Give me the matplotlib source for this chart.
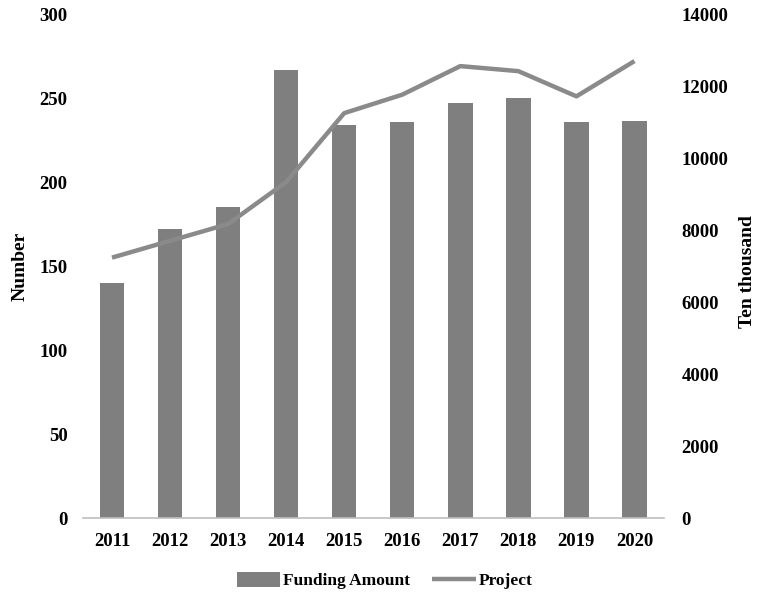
import matplotlib
matplotlib.use("Agg")
import matplotlib.pyplot as plt
import numpy as np

years = ["2011", "2012", "2013", "2014", "2015", "2016", "2017", "2018", "2019", "2020"]
funding_amount = [6530, 8030, 8640, 12440, 10920, 11000, 11530, 11670, 11000, 11030]  # ten thousand
project_count = [155, 165, 175, 200, 241, 252, 269, 266, 251, 272]

plt.rcParams["font.family"] = ["Liberation Serif", "DejaVu Serif"]
plt.rcParams["font.size"] = 13.5
plt.rcParams["font.weight"] = "bold"

fig = plt.figure(figsize=(7.57, 5.97), dpi=100)
ax = fig.add_axes([0.1096, 0.1323, 0.7669, 0.8442])
ax2 = ax.twinx()

x = np.arange(len(years))
bars = ax2.bar(x, funding_amount, width=0.42, color="#7f7f7f", label="Funding Amount")
line, = ax.plot(x, project_count, color="#8a8a8a", linewidth=3.2,
                solid_capstyle="butt", label="Project")

# line above the bars
ax.set_zorder(ax2.get_zorder() + 1)
ax.patch.set_visible(False)

ax.set_xlim(-0.5, len(years) - 0.5)
ax.set_ylim(0, 300)
ax.set_yticks(range(0, 301, 50))
ax2.set_ylim(0, 14000)
ax2.set_yticks(range(0, 14001, 2000))
ax.set_xticks(x)
ax.set_xticklabels(years)

for a in (ax, ax2):
    for s in a.spines.values():
        s.set_visible(False)
    a.tick_params(length=0, colors="black", labelsize=13.5)
ax.spines["bottom"].set_visible(True)
ax.spines["bottom"].set_color("#bfbfbf")
ax.spines["bottom"].set_linewidth(1.2)
ax.tick_params(axis="y", pad=11)
ax.tick_params(axis="x", pad=11)
ax2.tick_params(axis="y", pad=13)

ax.set_ylabel("Number", fontsize=14, fontweight="bold")
ax.yaxis.set_label_coords(-0.093, 0.5)
ax2.set_ylabel("Ten thousand", fontsize=14, fontweight="bold")
ax2.yaxis.set_label_coords(1.13, 0.49)

fig.legend(handles=[bars, line], labels=["Funding Amount", "Project"],
           loc="center", bbox_to_anchor=(0.508, 0.027), ncol=2, frameon=False,
           fontsize=12.5, handlelength=2.5, handleheight=0.9, columnspacing=1.3,
           handletextpad=0.15)

fig.savefig("out.png", dpi=100)
